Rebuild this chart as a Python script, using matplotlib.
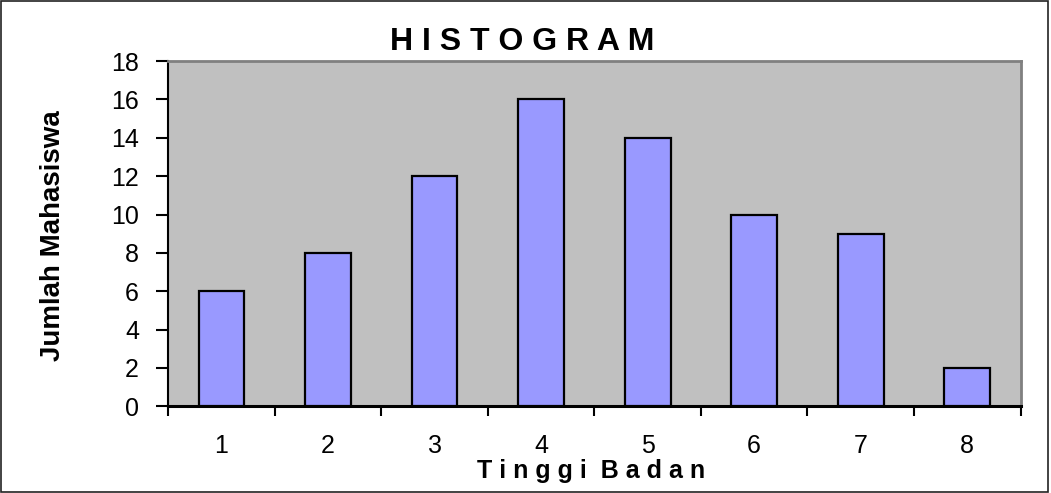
import matplotlib.pyplot as plt
from matplotlib.patches import Rectangle
from matplotlib.ticker import FixedLocator

plt.rcParams["font.family"] = ["Liberation Sans", "DejaVu Sans"]

kelas = [1, 2, 3, 4, 5, 6, 7, 8]
jumlah = [6, 8, 12, 16, 14, 10, 9, 2]
y_ticks = [0, 2, 4, 6, 8, 10, 12, 14, 16, 18]

fig = plt.figure(figsize=(10.51, 4.93), dpi=100)
ax = fig.add_axes([0.160, 0.176, 0.811, 0.700])
ax.set_facecolor("#C0C0C0")

ax.bar(kelas, jumlah, width=0.43, color="#9999FF", edgecolor="black", linewidth=1.6, zorder=3)

ax.set_xlim(0.5, 8.5)
ax.set_ylim(0, 18)
ax.set_yticks(y_ticks)
ax.set_xticks(kelas)
ax.set_xticklabels([str(k) for k in kelas])
ax.xaxis.set_minor_locator(FixedLocator([k - 0.5 for k in kelas] + [8.5]))

ax.tick_params(axis="x", which="major", length=0, pad=20, labelsize=18)
ax.tick_params(axis="x", which="minor", length=7, width=1.5, direction="out")
ax.tick_params(axis="y", length=9, width=1.5, direction="out", pad=12, labelsize=18)

for side in ["top", "right"]:
    ax.spines[side].set_color("#808080")
    ax.spines[side].set_linewidth(2)
ax.spines["bottom"].set_linewidth(2.2)
ax.spines["left"].set_linewidth(1.5)

fig.text(0.497, 0.915, "H I S T O G R A M", ha="center", va="center", fontsize=23, fontweight="bold")
fig.text(0.562, 0.045, "T i n g g i  B a d a n", ha="center", va="center", fontsize=18, fontweight="bold")
fig.text(0.050, 0.523, "Jumlah Mahasiswa", ha="center", va="center", rotation=90, fontsize=20, fontweight="bold")

fig.patches.append(Rectangle((0.001, 0.002), 0.996, 0.995, transform=fig.transFigure,
                             fill=False, edgecolor="#222222", linewidth=1.2))

fig.savefig("out.png", dpi=100)
